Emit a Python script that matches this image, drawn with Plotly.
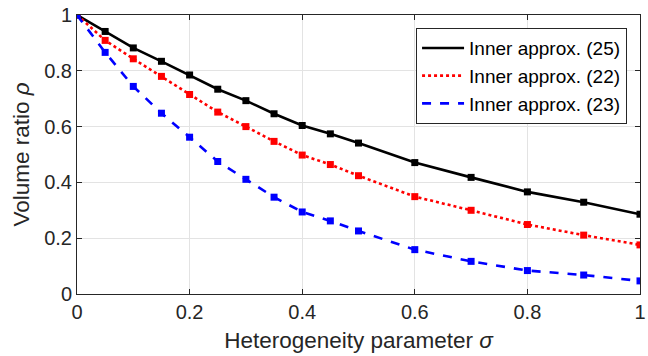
import plotly.graph_objects as go

sigma = [0, 0.05, 0.1, 0.15, 0.2, 0.25, 0.3, 0.35, 0.4, 0.45, 0.5, 0.6, 0.7, 0.8, 0.9, 1.0]
approx25 = [1.0, 0.941, 0.882, 0.834, 0.785, 0.734, 0.693, 0.646, 0.604, 0.574, 0.541, 0.471, 0.418, 0.366, 0.329, 0.286]
approx22 = [1.0, 0.909, 0.843, 0.780, 0.715, 0.652, 0.600, 0.547, 0.498, 0.464, 0.424, 0.349, 0.300, 0.249, 0.211, 0.176]
approx23 = [1.0, 0.866, 0.744, 0.648, 0.562, 0.475, 0.411, 0.347, 0.294, 0.262, 0.226, 0.159, 0.117, 0.084, 0.068, 0.047]
names = ["Inner approx. (25)", "Inner approx. (22)", "Inner approx. (23)"]
tickvals = [0, 0.2, 0.4, 0.6, 0.8, 1]
ticktext = ["0", "0.2", "0.4", "0.6", "0.8", "1"]

FONT = "Liberation Sans, Arial, sans-serif"
TXT = "#262626"

fig = go.Figure()
styles = [("black", "solid"), ("red", "dot"), ("blue", "dash")]
for ys, name, (c, d) in zip([approx25, approx22, approx23], names, styles):
    fig.add_trace(go.Scatter(
        x=sigma, y=ys, name=name, mode="lines+markers", showlegend=False,
        line=dict(color=c, dash=d, width=2.6),
        marker=dict(symbol="square", size=7, color=c),
    ))
# legend entries (lines only, as in the reference)
for name, (c, d) in zip(names, styles):
    fig.add_trace(go.Scatter(
        x=[None], y=[None], name=name, mode="lines",
        line=dict(color=c, dash=d, width=2.6),
    ))

axis_common = dict(
    range=[0, 1], tickvals=tickvals, ticktext=ticktext,
    showgrid=True, gridcolor="#e3e3e3", gridwidth=1,
    showline=True, linecolor=TXT, linewidth=1, mirror="ticks",
    ticks="inside", ticklen=5, tickcolor=TXT,
    zeroline=False, ticklabeloverflow="allow",
    tickfont=dict(family=FONT, size=20, color=TXT),
)

fig.update_layout(
    width=648, height=356,
    margin=dict(l=77, r=2, t=15, b=62),
    plot_bgcolor="white", paper_bgcolor="white",
    xaxis=dict(**axis_common,
               title=dict(text="Heterogeneity parameter <i>σ</i>",
                          font=dict(family=FONT, size=22.5, color=TXT),
                          standoff=10)),
    yaxis=dict(**axis_common,
               title=dict(text="Volume ratio <i>ρ</i>",
                          font=dict(family=FONT, size=22.5, color=TXT),
                          standoff=8)),
    legend=dict(
        x=0.977, y=0.953, xanchor="right", yanchor="top",
        bgcolor="white", bordercolor=TXT, borderwidth=1,
        font=dict(family=FONT, size=19, color="black"),
        tracegroupgap=0, itemwidth=42,
    ),
    showlegend=True,
)

fig.write_html("out.html", config={"displayModeBar": False},
               post_script="document.body.style.margin='0px';")
